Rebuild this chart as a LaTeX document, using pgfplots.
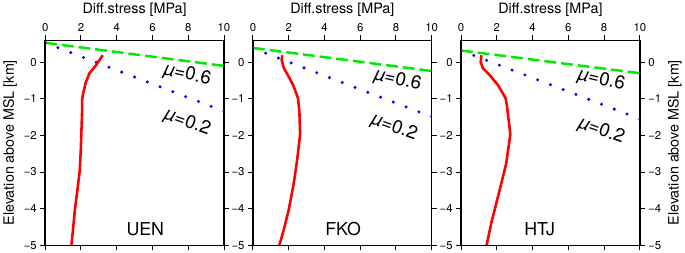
\documentclass[border=0pt]{standalone}
\usepackage{pgfplots}
\pgfplotsset{compat=1.18}
\usepackage{fontspec}
\setmainfont{TeX Gyre Heros}
\definecolor{mygreen}{RGB}{0,235,0}
\pgfplotsset{
 panel/.style={
  width=181pt, height=207.5pt, scale only axis,
  xmin=0,xmax=10,ymin=-5,ymax=0.6,
  xtick={0,2,...,10}, ytick={-5,-4,-3,-2,-1,0},
  yticklabels={−5,−4,−3,−2,−1,0},
  xticklabel pos=upper, xtick pos=both, ytick pos=both,
  tick align=outside, major tick length=5pt,
  tick style={line width=0.9pt, black},
  axis line style={line width=1.4pt},
  ticklabel style={font=\fontsize{11.5}{13}\selectfont},
  /pgf/number format/assume math mode=true,
  xlabel={Diff.stress [MPa]},
  label style={font=\fontsize{14.5}{16}\selectfont},
 },
}
\tikzset{
 redl/.style={red, line width=2.6pt, line join=round},
 greenl/.style={mygreen, line width=2.5pt, dash pattern=on 12pt off 5pt},
 bluel/.style={blue, line width=3.4pt, line cap=round, dash pattern=on 0pt off 13.84pt},
 mulab/.style={font=\fontsize{19}{21}\selectfont, inner sep=0pt},
 stlab/.style={font=\fontsize{18}{20}\selectfont},
}
\begin{document}
\begin{tikzpicture}
% UEN
\begin{axis}[panel, at={(0pt,0pt)}, ylabel={Elevation above MSL [km]}]
\addplot[greenl] coordinates {(0,0.53)(10,-0.10)};
\addplot[bluel] coordinates {(0,0.53)(10,-1.34)};
\addplot[redl] coordinates {(3.22,0.19)(2.85,-0.08)(2.48,-0.30)(2.26,-0.57)(2.13,-0.84)(2.07,-1.00)(2.06,-1.43)(2.02,-1.97)(1.99,-2.42)(1.93,-2.97)(1.80,-3.50)(1.66,-4.04)(1.47,-5.00)};
\node[mulab, rotate=-13] at (axis cs:7.95,-0.35) {\textit{µ}=0.6};
\node[mulab, rotate=-20] at (axis cs:7.95,-1.65) {\textit{µ}=0.2};
\node[stlab] at (axis cs:5.6,-4.55) {UEN};
\end{axis}
% FKO
\begin{axis}[panel, at={(210.3pt,0pt)}]
\addplot[greenl] coordinates {(0,0.39)(10,-0.24)};
\addplot[bluel] coordinates {(0,0.38)(10,-1.49)};
\addplot[redl] coordinates {(1.64,0.19)(1.61,0.05)(1.74,-0.17)(2.00,-0.39)(2.28,-0.66)(2.52,-0.98)(2.60,-1.34)(2.64,-1.97)(2.47,-2.69)(2.28,-3.32)(2.00,-4.04)(1.73,-4.57)(1.48,-5.00)};
\node[mulab, rotate=-13] at (axis cs:8.1,-0.49) {\textit{µ}=0.6};
\node[mulab, rotate=-20] at (axis cs:7.9,-1.79) {\textit{µ}=0.2};
\node[stlab] at (axis cs:5.05,-4.55) {FKO};
\end{axis}
% HTJ
\begin{axis}[panel, at={(421pt,0pt)}]
\addplot[greenl] coordinates {(0,0.32)(10,-0.30)};
\addplot[bluel] coordinates {(0,0.32)(10,-1.55)};
\addplot[redl] coordinates {(1.14,0.19)(1.10,0.00)(1.23,-0.17)(1.60,-0.35)(2.06,-0.62)(2.49,-0.98)(2.56,-1.16)(2.76,-1.97)(2.52,-2.78)(2.34,-3.14)(1.97,-3.86)(1.69,-4.40)(1.43,-5.00)};
\node[mulab, rotate=-13] at (axis cs:7.85,-0.49) {\textit{µ}=0.6};
\node[mulab, rotate=-20] at (axis cs:7.85,-1.88) {\textit{µ}=0.2};
\node[stlab] at (axis cs:4.4,-4.55) {HTJ};
\end{axis}
\begin{axis}[at={(421pt,0pt)}, width=181pt, height=207.5pt, scale only axis,
  xmin=0,xmax=10,ymin=-5,ymax=0.6, xtick=\empty,
  ytick={-5,-4,-3,-2,-1,0}, yticklabels={−5,−4,−3,−2,−1,0},
  yticklabel pos=right, ytick pos=right, tick align=outside, major tick length=5pt,
  tick style={line width=0.9pt, black}, axis line style={draw=none},
  ticklabel style={font=\fontsize{11.5}{13}\selectfont},
  ylabel={Elevation above MSL [km]},
  label style={font=\fontsize{14.5}{16}\selectfont}]
\end{axis}
\end{tikzpicture}
\end{document}
